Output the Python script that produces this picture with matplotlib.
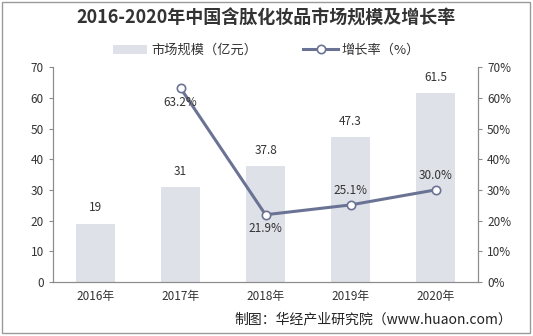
import matplotlib.pyplot as plt
from matplotlib.patches import Rectangle

plt.rcParams['font.family'] = ['Noto Sans CJK SC', 'DejaVu Sans']

years = ['2016年', '2017年', '2018年', '2019年', '2020年']
market_size = [19, 31, 37.8, 47.3, 61.5]
growth_rate = [None, 63.2, 21.9, 25.1, 30.0]

bar_color = '#dfe1e8'
line_color = '#6b7394'
axis_color = '#8c8c8c'

fig = plt.figure(figsize=(5.33, 3.36), dpi=100)
ax = fig.add_axes([0.0994, 0.161, 0.7976, 0.639])
ax2 = ax.twinx()

x = list(range(len(years)))
bars = ax.bar(x, market_size, width=0.45, color=bar_color, label='市场规模（亿元）', zorder=2)
for xi, v in zip(x, market_size):
    ax.text(xi, v + 3, f'{v:g}', ha='center', va='bottom', fontsize=8.5, color='#333333')

gx = [xi for xi, g in zip(x, growth_rate) if g is not None]
gy = [g for g in growth_rate if g is not None]
line, = ax2.plot(gx, gy, color=line_color, lw=2.2, marker='o', ms=6,
                 mfc='white', mec=line_color, mew=1.2, label='增长率（%）', zorder=3)
for xi, g in zip(gx, gy):
    below = xi in (1, 2)
    ax2.text(xi, g - 2.5 if below else g + 2.5, f'{g:.1f}%', ha='center',
             va='top' if below else 'bottom', fontsize=8.5, color='#333333')

ax.set_xlim(-0.5, 4.5)
ax.set_ylim(0, 70)
ax.set_yticks(range(0, 71, 10))
ax2.set_ylim(0, 70)
ax2.set_yticks(range(0, 71, 10))
ax2.set_yticklabels([f'{t}%' for t in range(0, 71, 10)])
ax.set_xticks(x)
ax.set_xticklabels(years)

for a in (ax, ax2):
    a.spines['top'].set_visible(False)
    for s in ('left', 'right', 'bottom'):
        a.spines[s].set_color(axis_color)
        a.spines[s].set_linewidth(0.8)
    a.tick_params(axis='both', colors=axis_color, labelcolor='#333333', labelsize=8.5,
                  length=3, width=0.8)
ax.tick_params(axis='x', length=0, pad=6)

fig.text(0.5, 0.945, '2016-2020年中国含肽化妆品市场规模及增长率', ha='center', va='center',
         fontsize=13, fontweight='bold', color='#333333')
fig.legend(handles=[bars, line], loc='center', bbox_to_anchor=(0.5, 0.85), ncol=2,
           frameon=False, fontsize=9.5, handlelength=2.6, columnspacing=3.5,
           handletextpad=0.3, labelcolor='#333333')
fig.text(0.96, 0.048, '制图：华经产业研究院（www.huaon.com）', ha='right', va='center',
         fontsize=10, color='#222222')

fig.patches.append(Rectangle((0.004, 0.008), 0.99, 0.985, transform=fig.transFigure,
                             fill=False, edgecolor='#9a9a9a', lw=1))

fig.savefig('out.png', dpi=100)
